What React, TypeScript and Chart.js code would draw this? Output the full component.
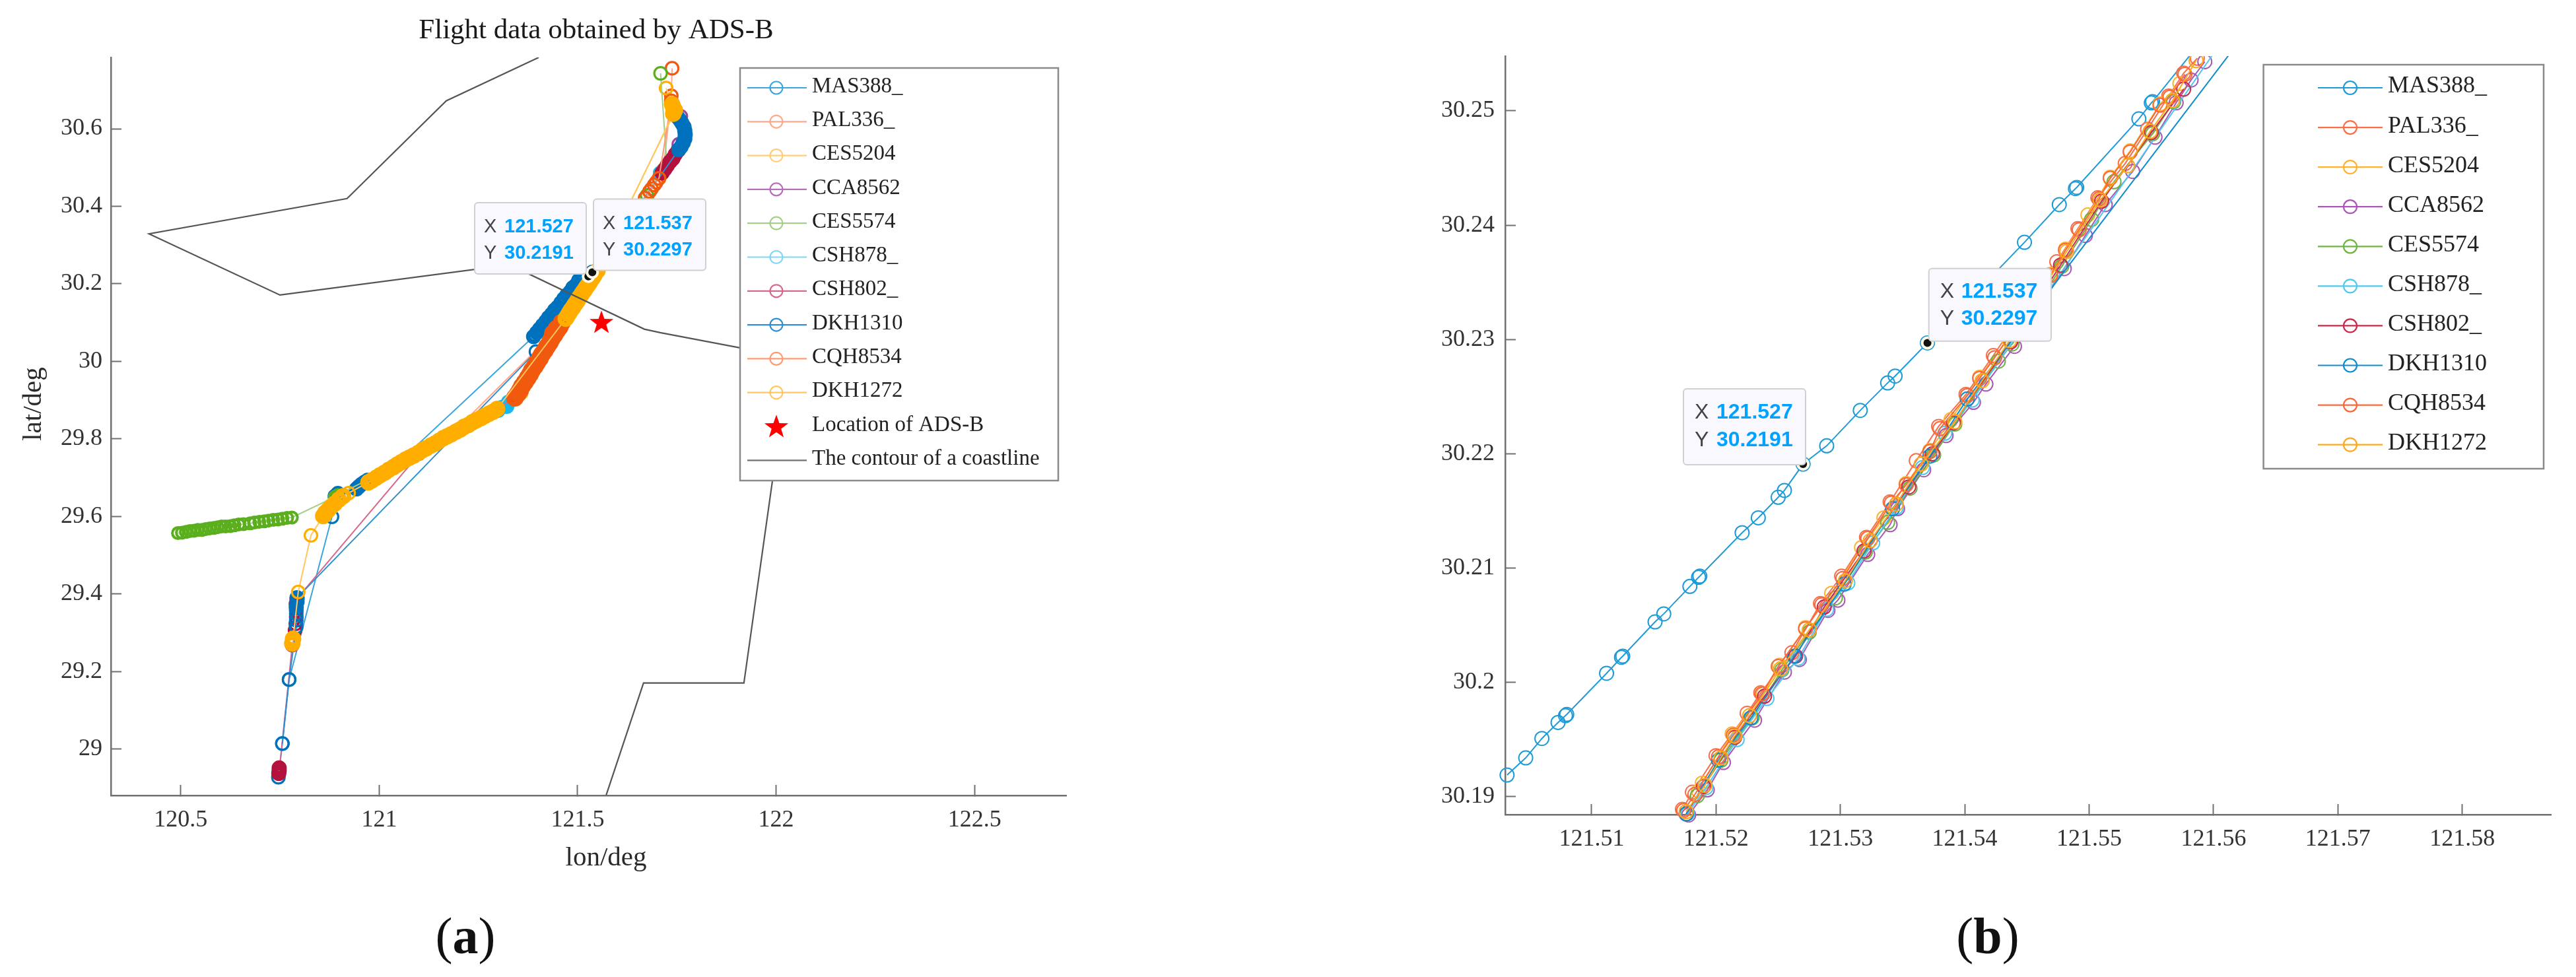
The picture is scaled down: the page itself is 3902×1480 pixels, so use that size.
import React, { useEffect, useRef } from "react";
import { Chart, registerables } from "chart.js";

Chart.register(...registerables);

type P = [number, number];

// ---------- labels ----------
const flightNames = ["MAS388_", "PAL336_", "CES5204", "CCA8562", "CES5574", "CSH878_", "CSH802_", "DKH1310", "CQH8534", "DKH1272"];
const starName = "Location of ADS-B";
const coastName = "The contour of a coastline";
const titleA = "Flight data obtained by ADS-B";

// ---------- ticks ----------
const xTicksA = [120.5, 121, 121.5, 122, 122.5];
const yTicksA = [29, 29.2, 29.4, 29.6, 29.8, 30, 30.2, 30.4, 30.6];
const xTicksB = [121.51, 121.52, 121.53, 121.54, 121.55, 121.56, 121.57, 121.58];
const yTicksB = [30.19, 30.2, 30.21, 30.22, 30.23, 30.24, 30.25];

// ---------- panel (a) ----------
const aMAS388: P[] = [[120.746,28.927],[120.756,29.014],[120.773,29.179],[120.881,29.599],[120.889,29.652],[120.896,29.659],[120.943,29.671],[120.949,29.677],[120.956,29.683],[120.963,29.688],[120.971,29.693],[121.036,29.727],[121.389,30.064],[121.397,30.074],[121.404,30.083],[121.412,30.093],[121.420,30.103],[121.427,30.113],[121.435,30.122],[121.442,30.132],[121.450,30.140],[121.458,30.151],[121.465,30.161],[121.473,30.171],[121.482,30.180],[121.488,30.190],[121.497,30.198],[121.503,30.209],[121.512,30.217],[121.527,30.2191],[121.537,30.2297],[121.583,30.299]];
const aPAL336: P[] = [[121.738,30.756],[121.736,30.685],[121.716,30.493],[121.698,30.462],[121.686,30.445],[121.675,30.428],[121.467,30.108],[121.457,30.096],[121.447,30.084],[121.438,30.072],[121.182,29.812],[121.109,29.771],[121.009,29.710],[120.982,29.693]];
const aCES5204: P[] = [[121.723,30.705],[121.738,30.663],[121.746,30.646],[121.540,30.219],[121.533,30.209],[121.527,30.198],[121.520,30.188],[121.513,30.178],[121.507,30.168],[121.500,30.157],[121.493,30.147],[121.487,30.137],[121.480,30.127],[121.473,30.115],[121.358,29.919],[121.292,29.873],[121.209,29.826],[121.076,29.751],[120.976,29.691]];
const aCCA8562: P[] = [[121.760,30.632],[121.755,30.560],[121.713,30.488],[121.460,30.095],[121.297,29.875],[121.100,29.762],[120.975,29.690]];
const aCES5574: P[] = [[120.493,29.557],[120.503,29.558],[120.513,29.560],[120.523,29.562],[120.533,29.563],[120.543,29.565],[120.553,29.565],[120.563,29.567],[120.573,29.569],[120.583,29.570],[120.593,29.572],[120.603,29.574],[120.613,29.574],[120.625,29.575],[120.635,29.577],[120.646,29.579],[120.658,29.580],[120.675,29.582],[120.686,29.584],[120.698,29.586],[120.710,29.587],[120.721,29.589],[120.733,29.591],[120.745,29.592],[120.756,29.594],[120.768,29.596],[120.780,29.597],[120.888,29.650],[120.896,29.655],[121.046,29.734],[121.297,29.877],[121.463,30.105],[121.675,30.428],[121.725,30.506],[121.709,30.743]];
const aCSH878: P[] = [[120.980,29.692],[121.037,29.730],[121.085,29.755],[121.300,29.873],[121.309,29.882],[121.322,29.883],[121.325,29.895],[121.334,29.900],[121.358,29.936],[121.708,30.486]];
const aCSH802: P[] = [[120.748,28.951],[120.748,28.944],[120.747,28.937],[120.781,29.268],[120.788,29.306],[120.790,29.323],[120.791,29.340],[120.791,29.357],[120.791,29.374],[120.793,29.388],[121.109,29.771],[121.295,29.875],[121.345,29.909],[121.463,30.105],[121.713,30.486],[121.720,30.496],[121.726,30.505],[121.733,30.515],[121.740,30.523],[121.746,30.534],[121.753,30.544]];
const aDKH1310: P[] = [[120.756,29.014],[120.773,29.179],[120.791,29.315],[120.791,29.332],[120.791,29.349],[120.791,29.366],[120.793,29.380],[120.793,29.390],[121.395,30.025],[121.755,30.546],[121.761,30.554],[121.766,30.564],[121.770,30.574],[121.771,30.585],[121.770,30.595],[121.768,30.605],[121.763,30.614],[121.758,30.622],[121.753,30.629]];
const aCQH8534: P[] = [[121.342,29.906],[121.349,29.916],[121.355,29.926],[121.360,29.936],[121.367,29.946],[121.374,29.957],[121.380,29.967],[121.385,29.977],[121.392,29.987],[121.398,29.997],[121.405,30.008],[121.410,30.018],[121.417,30.028],[121.423,30.038],[121.430,30.049],[121.435,30.059],[121.442,30.069],[121.448,30.079],[121.455,30.089],[121.460,30.100],[121.670,30.421],[121.681,30.438],[121.693,30.455],[121.705,30.472],[121.736,30.672]];
const aDKH1272: P[] = [[120.781,29.272],[120.783,29.284],[120.796,29.405],[120.828,29.551],[120.859,29.601],[120.864,29.609],[120.871,29.616],[120.879,29.625],[120.888,29.633],[120.898,29.643],[120.909,29.652],[120.923,29.660],[120.973,29.688],[120.982,29.693],[120.993,29.700],[121.002,29.706],[121.014,29.713],[121.024,29.720],[121.036,29.727],[121.046,29.734],[121.056,29.740],[121.067,29.747],[121.077,29.752],[121.087,29.757],[121.099,29.764],[121.109,29.771],[121.119,29.776],[121.131,29.783],[121.141,29.788],[121.151,29.795],[121.162,29.802],[121.172,29.807],[121.182,29.812],[121.194,29.819],[121.204,29.824],[121.214,29.831],[121.225,29.836],[121.235,29.843],[121.245,29.848],[121.257,29.854],[121.267,29.860],[121.277,29.865],[121.287,29.870],[121.297,29.877],[121.470,30.110],[121.477,30.122],[121.483,30.132],[121.490,30.142],[121.497,30.152],[121.503,30.163],[121.510,30.173],[121.517,30.183],[121.523,30.193],[121.530,30.203],[121.537,30.214],[121.543,30.224],[121.550,30.234],[121.741,30.639],[121.745,30.648],[121.741,30.655],[121.738,30.663]];
const aSeries = [aMAS388, aPAL336, aCES5204, aCCA8562, aCES5574, aCSH878, aCSH802, aDKH1310, aCQH8534, aDKH1272];
const aStation: P[] = [[121.56, 30.101]];
const aCoast: P[] = [[121.402,30.784],[121.169,30.672],[120.919,30.420],[120.420,30.329],[120.750,30.171],[121.329,30.249],[121.668,30.083],[121.708,30.074],[121.909,30.035],[122.016,30.013],[121.991,29.693],[121.919,29.170],[121.666,29.170],[121.572,28.881]];

// ---------- panel (b) ----------
const bMAS388: P[] = [[121.5032,30.1919],[121.5047,30.1934],[121.5060,30.1951],[121.5073,30.1965],[121.5079,30.1971],[121.5080,30.1972],[121.5112,30.2008],[121.5124,30.2022],[121.5125,30.2023],[121.5151,30.2053],[121.5158,30.2060],[121.5179,30.2084],[121.5186,30.2092],[121.5187,30.2093],[121.5221,30.2131],[121.5234,30.2144],[121.5250,30.2162],[121.5255,30.2168],[121.5270,30.2191],[121.5289,30.2207],[121.5316,30.2238],[121.5338,30.2262],[121.5344,30.2268],[121.5370,30.2297],[121.5448,30.2385],[121.5476,30.2418],[121.5489,30.2432],[121.5490,30.2433],[121.5540,30.2493],[121.5550,30.2507],[121.5551,30.2508],[121.5617,30.2597]];
const bPAL336: P[] = [[121.5173,30.1889],[121.5181,30.1904],[121.5200,30.1936],[121.5225,30.1973],[121.5236,30.1991],[121.5261,30.2026],[121.5284,30.2069],[121.5301,30.2093],[121.5321,30.2127],[121.5340,30.2158],[121.5361,30.2194],[121.5379,30.2224],[121.5401,30.2252],[121.5423,30.2286],[121.5456,30.2339],[121.5474,30.2368],[121.5491,30.2397],[121.5507,30.2424],[121.5529,30.2454],[121.5547,30.2484],[121.5564,30.2513],[121.5576,30.2533],[121.5587,30.2546]];
const bCES5204: P[] = [[121.5186,30.1905],[121.5189,30.1912],[121.5213,30.1955],[121.5238,30.1990],[121.5251,30.2015],[121.5272,30.2048],[121.5293,30.2078],[121.5317,30.2118],[121.5335,30.2144],[121.5353,30.2174],[121.5372,30.2203],[121.5389,30.2230],[121.5412,30.2267],[121.5435,30.2301],[121.5469,30.2357],[121.5481,30.2379],[121.5499,30.2409],[121.5517,30.2442],[121.5533,30.2465],[121.5557,30.2506],[121.5573,30.2524]];
const bCCA8562: P[] = [[121.5178,30.1884],[121.5193,30.1906],[121.5206,30.1930],[121.5231,30.1967],[121.5255,30.2009],[121.5267,30.2020],[121.5290,30.2063],[121.5298,30.2072],[121.5322,30.2112],[121.5340,30.2138],[121.5346,30.2152],[121.5367,30.2186],[121.5385,30.2216],[121.5407,30.2245],[121.5417,30.2261],[121.5440,30.2294],[121.5480,30.2362],[121.5497,30.2391],[121.5513,30.2418],[121.5535,30.2447],[121.5553,30.2477],[121.5570,30.2507],[121.5582,30.2527],[121.5593,30.2543]];
const bCES5574: P[] = [[121.5185,30.1901],[121.5204,30.1932],[121.5229,30.1969],[121.5253,30.2011],[121.5275,30.2044],[121.5296,30.2074],[121.5320,30.2114],[121.5338,30.2140],[121.5356,30.2170],[121.5375,30.2199],[121.5392,30.2226],[121.5427,30.2281],[121.5438,30.2296],[121.5478,30.2364],[121.5502,30.2405],[121.5520,30.2438],[121.5551,30.2480],[121.5568,30.2508]];
const bCSH878: P[] = [[121.5177,30.1885],[121.5192,30.1908],[121.5217,30.1950],[121.5241,30.1986],[121.5266,30.2021],[121.5289,30.2064],[121.5306,30.2087],[121.5326,30.2122],[121.5345,30.2153],[121.5366,30.2188],[121.5384,30.2218],[121.5406,30.2247],[121.5630,30.2597]];
const bCSH802: P[] = [[121.5176,30.1885],[121.5190,30.1909],[121.5215,30.1952],[121.5239,30.1988],[121.5264,30.2023],[121.5287,30.2066],[121.5319,30.2115],[121.5355,30.2171],[121.5374,30.2200],[121.5391,30.2227],[121.5437,30.2298],[121.5477,30.2365],[121.5510,30.2421],[121.5550,30.2481],[121.5576,30.2519]];
const bDKH1310: P[] = [[121.5176,30.1885],[121.5202,30.1932],[121.5228,30.1969],[121.5263,30.2023],[121.5303,30.2086],[121.5342,30.2152],[121.5372,30.2198],[121.5402,30.2248],[121.5646,30.2597]];
const bCQH8534: P[] = [[121.5174,30.1888],[121.5183,30.1902],[121.5202,30.1935],[121.5214,30.1954],[121.5237,30.1990],[121.5250,30.2014],[121.5272,30.2047],[121.5285,30.2068],[121.5302,30.2091],[121.5322,30.2126],[121.5341,30.2157],[121.5353,30.2173],[121.5372,30.2202],[121.5380,30.2222],[121.5402,30.2251],[121.5412,30.2266],[121.5424,30.2284],[121.5445,30.2318],[121.5469,30.2356],[121.5481,30.2378],[121.5492,30.2396],[121.5508,30.2423],[121.5517,30.2441],[121.5533,30.2464],[121.5557,30.2505],[121.5565,30.2512],[121.5577,30.2532]];
const bDKH1272: P[] = [[121.5176,30.1887],[121.5191,30.1910],[121.5204,30.1934],[121.5215,30.1953],[121.5227,30.1971],[121.5252,30.2012],[121.5275,30.2046],[121.5304,30.2089],[121.5324,30.2124],[121.5345,30.2156],[121.5365,30.2191],[121.5392,30.2228],[121.5414,30.2264],[121.5436,30.2299],[121.5482,30.2377],[121.5509,30.2422],[121.5531,30.2452],[121.5549,30.2482],[121.5567,30.2509],[121.5586,30.2544]];
const bSeries = [bMAS388, bPAL336, bCES5204, bCCA8562, bCES5574, bCSH878, bCSH802, bDKH1310, bCQH8534, bDKH1272];

// ---------- data tips (same in both panels) ----------
const tipLon = [121.527, 121.537];
const tipLat = [30.2191, 30.2297];
const tipLonText = ["121.527", "121.537"];
const tipLatText = ["30.2191", "30.2297"];

// ---------- styles (MATLAB colour order repeats after seven) ----------
const ringA = ["#0072BD", "#F15A0E", "#FFAE00", "#A0449C", "#5BAE1E", "#17B8EC", "#B3123E", "#0072BD", "#F15A0E", "#FFAE00"];
const lineA = ["#3AA6DC", "#FFA88C", "#FFCE7A", "#B66FB8", "#A3CF86", "#7FD5F5", "#D8688A", "#2F8FD0", "#FF9A74", "#FFC75E"];
const outerA = [11.5, 13.5, 12.5, 11, 10.5, 11, 11.5, 11.5, 13.5, 12.5];
const denseBorderA = [7, 7, 7, 7, 4, 7, 7, 7, 7, 7];
const ringB = ["#1E9BD7", "#F7704A", "#FDB32F", "#A958B4", "#6CB544", "#4FC8EE", "#C92A4C", "#0E8CCB", "#F7693C", "#FBA91E"];
const serif = "'Liberation Serif', serif";
const sans = "'Liberation Sans', sans-serif";

function starImage(size: number) {
  const c = document.createElement("canvas");
  c.width = c.height = size;
  const g = c.getContext("2d")!;
  g.fillStyle = "#FF0000";
  g.beginPath();
  for (let i = 0; i < 10; i++) {
    const r = i % 2 === 0 ? size / 2 : size * 0.2;
    const a = -Math.PI / 2 + (i * Math.PI) / 5;
    const x = size / 2 + r * Math.cos(a);
    const y = size * 0.53 + r * Math.sin(a);
    if (i === 0) g.moveTo(x, y);
    else g.lineTo(x, y);
  }
  g.closePath();
  g.fill();
  return c;
}

const toXY = (pts: P[]) => pts.map(([x, y]) => ({ x, y }));

// a marker belongs to a solid band when its neighbour along the track is under ~9 px away
function denseFlags(pts: P[]) {
  const gap = (a?: P, b?: P) => (a && b ? Math.hypot((a[0] - b[0]) * 601, (a[1] - b[1]) * 587.5) : Infinity);
  return pts.map((p, i) => Math.min(gap(p, pts[i - 1]), gap(p, pts[i + 1])) < 9);
}

type Layout = {
  originX: number;
  legend: { l: number; t: number; r: number; b: number; y0: number; dy: number; lx0: number; lx1: number; mx: number; tx: number; font: number; r0: number };
  tips: { l: number; t: number; w: number; h: number; tx: number; vx: number; r1: number; r2: number; font: number }[];
  caption: { letter: string; x: number; y: number };
  axisText?: boolean;
};

function overlayPlugin(layout: Layout, rows: { label: string; color?: string; star?: HTMLCanvasElement }[]) {
  return {
    id: "overlay",
    afterDraw(chart: any) {
      const g: CanvasRenderingContext2D = chart.ctx;
      const ox = layout.originX;
      const sx = chart.scales.x;
      const sy = chart.scales.y;
      g.save();
      // data tip anchors
      tipLon.forEach((lon, i) => {
        const x = sx.getPixelForValue(lon);
        const y = sy.getPixelForValue(tipLat[i]);
        g.beginPath();
        g.arc(x, y, 10, 0, Math.PI * 2);
        g.fillStyle = "#FFFBE6";
        g.fill();
        g.beginPath();
        g.arc(x, y, 6, 0, Math.PI * 2);
        g.fillStyle = "#111111";
        g.fill();
      });
      // data tips
      layout.tips.forEach((t, i) => {
        const l = t.l - ox;
        g.beginPath();
        g.roundRect(l, t.t, t.w, t.h, 5);
        g.fillStyle = "#F8F8FE";
        g.fill();
        g.lineWidth = 2;
        g.strokeStyle = "#D0D0D0";
        g.stroke();
        g.textBaseline = "middle";
        g.textAlign = "left";
        g.font = `${t.font}px ${sans}`;
        g.fillStyle = "#444444";
        g.fillText("X", l + t.tx, t.t + t.r1);
        g.fillText("Y", l + t.tx, t.t + t.r2);
        g.font = `bold ${t.font}px ${sans}`;
        g.fillStyle = "#00A2FF";
        g.fillText(tipLonText[i], l + t.vx, t.t + t.r1);
        g.fillText(tipLatText[i], l + t.vx, t.t + t.r2);
      });
      // legend
      const L = layout.legend;
      g.fillStyle = "#FFFFFF";
      g.fillRect(L.l - ox, L.t, L.r - L.l, L.b - L.t);
      g.lineWidth = 2.5;
      g.strokeStyle = "#8A8A8A";
      g.strokeRect(L.l - ox, L.t, L.r - L.l, L.b - L.t);
      g.font = `${L.font}px ${serif}`;
      g.textBaseline = "middle";
      g.textAlign = "left";
      rows.forEach((row, i) => {
        const y = L.y0 + i * L.dy;
        if (row.star) {
          g.drawImage(row.star, L.mx - ox - 19, y - 19, 38, 38);
        } else if (row.color) {
          g.strokeStyle = row.color;
          g.lineWidth = 2.2;
          g.beginPath();
          g.moveTo(L.lx0 - ox, y);
          g.lineTo(L.lx1 - ox, y);
          g.stroke();
          if (i < 10) {
            g.beginPath();
            g.arc(L.mx - ox, y, L.r0, 0, Math.PI * 2);
            g.stroke();
          }
        }
        g.fillStyle = "#222222";
        g.fillText(row.label, L.tx - ox, y - 2);
      });
      // caption
      const c = layout.caption;
      g.fillStyle = "#111111";
      g.textBaseline = "middle";
      g.textAlign = "left";
      const reg = `78px ${serif}`;
      const bold = `bold 78px ${serif}`;
      g.font = reg;
      const p = g.measureText("(").width;
      g.font = bold;
      const m = g.measureText(c.letter).width;
      let x = c.x - ox - (2 * p + m) / 2;
      g.font = reg;
      g.fillText("(", x, c.y);
      x += p;
      g.font = bold;
      g.fillText(c.letter, x, c.y);
      x += m;
      g.font = reg;
      g.fillText(")", x, c.y);
      // title and axis names
      if (layout.axisText) {
        g.font = `43px ${serif}`;
        g.fillStyle = "#1a1a1a";
        g.textAlign = "center";
        g.fillText(titleA, 903, 47);
        g.font = `41px ${serif}`;
        g.fillStyle = "#2a2a2a";
        g.fillText("lon/deg", 918, 1300);
        g.translate(51, 612);
        g.rotate(-Math.PI / 2);
        g.fillText("lat/deg", 0, 0);
      }
      g.restore();
    },
  };
}

function axisOptions(ticks: number[], other: { min: number; max: number; pad: number; fit: number; horizontal: boolean }) {
  return {
    type: "linear",
    min: other.min,
    max: other.max,
    afterBuildTicks: (s: any) => {
      s.ticks = ticks.map((value) => ({ value }));
    },
    afterFit: (s: any) => {
      if (other.horizontal) s.height = other.fit;
      else s.width = other.fit;
    },
    border: { display: true, color: "#707070", width: 2.5 },
    grid: { drawOnChartArea: false, drawTicks: true, tickLength: -16, tickWidth: 2, tickColor: "#707070" },
    ticks: {
      autoSkip: false,
      maxRotation: 0,
      padding: other.pad,
      color: "#333333",
      font: { family: serif, size: 36 },
      callback: (v: any) => String(v),
    },
  };
}

function useChart(build: (canvas: HTMLCanvasElement) => Chart) {
  const ref = useRef<HTMLCanvasElement | null>(null);
  useEffect(() => {
    const chart = build(ref.current!);
    return () => chart.destroy();
  }, []);
  return ref;
}

function buildA(canvas: HTMLCanvasElement) {
  const star = starImage(38);
  const n = aSeries.length + 2;
  const datasets: any[] = aSeries.map((pts, i) => {
    const dense = denseFlags(pts);
    const border = (c: any) => (dense[c.dataIndex] ? denseBorderA[i] : 3.2);
    return {
      label: flightNames[i],
      data: toXY(pts),
      showLine: true,
      borderColor: lineA[i],
      borderWidth: 2,
      pointStyle: "circle",
      pointRadius: (c: any) => (dense[c.dataIndex] ? outerA[i] - denseBorderA[i] / 2 : 9.5),
      pointBorderWidth: border,
      pointBorderColor: ringA[i],
      pointBackgroundColor: "rgba(0,0,0,0)",
      order: n - i,
      clip: 0,
    };
  });
  datasets.push({
    label: starName,
    data: toXY(aStation),
    showLine: false,
    pointStyle: star,
    pointRadius: 19,
    order: 2,
  });
  datasets.push({
    label: coastName,
    data: toXY(aCoast),
    showLine: true,
    borderColor: "#555555",
    borderWidth: 2.2,
    pointRadius: 0,
    order: 1,
    clip: 0,
  });
  const rows = [
    ...flightNames.map((label, i) => ({ label, color: lineA[i] })),
    { label: starName, star },
    { label: coastName, color: "#707070" },
  ];
  const layout: Layout = {
    originX: 0,
    axisText: true,
    legend: { l: 1121, t: 103, r: 1603, b: 728, y0: 133, dy: 51.3, lx0: 1132, lx1: 1222, mx: 1176, tx: 1230, font: 33, r0: 9.5 },
    tips: [
      { l: 719, t: 307, w: 169, h: 108, tx: 14, vx: 45, r1: 37, r2: 77, font: 29 },
      { l: 899, t: 301.5, w: 170, h: 108, tx: 14, vx: 45, r1: 37, r2: 77, font: 29 },
    ],
    caption: { letter: "a", x: 705, y: 1424 },
  };
  return new Chart(canvas, {
    type: "scatter",
    data: { datasets },
    options: {
      animation: false,
      responsive: false,
      maintainAspectRatio: false,
      devicePixelRatio: 1,
      layout: { padding: { left: 0, top: 87, right: 382, bottom: 0 } },
      plugins: { legend: { display: false }, tooltip: { enabled: false } },
      scales: {
        x: axisOptions(xTicksA, { min: 120.324, max: 122.731, pad: 32, fit: 275, horizontal: true }),
        y: axisOptions(yTicksA, { min: 28.88, max: 30.784, pad: 29, fit: 168, horizontal: false }),
      },
    } as any,
    plugins: [overlayPlugin(layout, rows)],
  });
}

function buildB(canvas: HTMLCanvasElement) {
  const n = bSeries.length;
  const datasets: any[] = bSeries.map((pts, i) => ({
    label: flightNames[i],
    data: toXY(pts),
    showLine: true,
    borderColor: ringB[i],
    borderWidth: 2,
    pointStyle: "circle",
    pointRadius: 10.5,
    pointBorderWidth: 2,
    pointBorderColor: ringB[i],
    pointBackgroundColor: "rgba(0,0,0,0)",
    order: n - i,
    clip: { left: 12, top: 0, right: 12, bottom: 12 },
  }));
  const rows = flightNames.map((label, i) => ({ label, color: ringB[i] }));
  const layout: Layout = {
    originX: 2000,
    legend: { l: 3428.6, t: 98, r: 3853, b: 710, y0: 133, dy: 60.07, lx0: 3511, lx1: 3609, mx: 3560, tx: 3617, font: 36, r0: 10 },
    tips: [
      { l: 2550, t: 589, w: 185, h: 115, tx: 17, vx: 50, r1: 36, r2: 78, font: 32 },
      { l: 2921.7, t: 406.7, w: 185.3, h: 110, tx: 17, vx: 49, r1: 35, r2: 76, font: 32 },
    ],
    caption: { letter: "b", x: 3011, y: 1424 },
  };
  return new Chart(canvas, {
    type: "scatter",
    data: { datasets },
    options: {
      animation: false,
      responsive: false,
      maintainAspectRatio: false,
      devicePixelRatio: 1,
      layout: { padding: { left: 0, top: 85, right: 38, bottom: 0 } },
      plugins: { legend: { display: false }, tooltip: { enabled: false } },
      scales: {
        x: axisOptions(xTicksB, { min: 121.50305, max: 121.58713, pad: 32, fit: 246, horizontal: true }),
        y: axisOptions(yTicksB, { min: 30.18844, max: 30.25479, pad: 32, fit: 280, horizontal: false }),
      },
    } as any,
    plugins: [overlayPlugin(layout, rows)],
  });
}

export default function App() {
  const refA = useChart(buildA);
  const refB = useChart(buildB);
  return (
    <div style={{ position: "absolute", left: 0, top: 0, width: 3902, height: 1480, background: "#fff", overflow: "hidden" }}>
      <canvas ref={refA} width={1997} height={1480} style={{ position: "absolute", left: 0, top: 0, width: 1997, height: 1480 }} />
      <canvas ref={refB} width={1902} height={1480} style={{ position: "absolute", left: 2000, top: 0, width: 1902, height: 1480 }} />
    </div>
  );
}
